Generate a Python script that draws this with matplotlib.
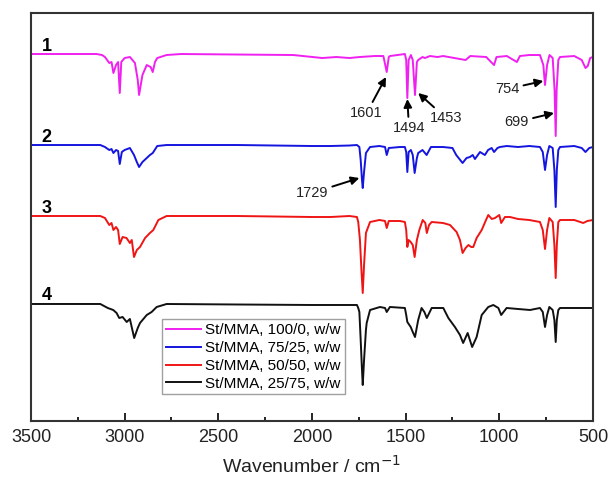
import matplotlib
matplotlib.use("Agg")
import matplotlib.pyplot as plt
from matplotlib.ticker import MultipleLocator

plt.rcParams['font.family'] = ['Liberation Sans', 'DejaVu Sans']

# FTIR spectra (arbitrary transmittance units, offset per sample)
wn_1 = [3500, 3150, 3121, 3105, 3082, 3070, 3060, 3046, 3035, 3026, 3018, 3000, 2972, 2945, 2930, 2923,
        2905, 2882, 2861, 2850, 2838, 2826, 2776, 2700, 2400, 2100, 1945, 1870, 1800, 1745, 1665, 1619,
        1601, 1590, 1583, 1504, 1497, 1491, 1484, 1472, 1462, 1450, 1440, 1433, 1410, 1397, 1370, 1330,
        1300, 1180, 1155, 1070, 1028, 1015, 960, 906, 890, 840, 783, 765, 756, 745, 732, 715, 705, 699,
        694, 685, 676, 600, 560, 540, 528, 515, 500]
t_1 = [367, 367, 366, 364, 358, 359, 348, 356, 359, 328, 359, 363, 364, 358, 341, 326,
       346, 356, 354, 349, 359, 363, 366, 367, 366.5, 366, 363, 364, 363, 364, 365, 365,
       349, 364, 365, 367, 361, 323, 361, 366, 361, 326, 359, 361, 364, 363, 365, 364,
       365, 361, 365, 364, 356, 364, 365, 359, 365, 366, 366, 356, 336, 356, 366, 363, 331, 285,
       331, 361, 364, 365, 361, 353, 355, 363, 364]

wn_2 = [3500, 3130, 3105, 3082, 3070, 3060, 3046, 3035, 3026, 3015, 3000, 2972, 2950, 2935, 2923, 2905,
        2882, 2865, 2850, 2826, 2776, 2400, 2000, 1900, 1800, 1760, 1747, 1740, 1733, 1729, 1722, 1712,
        1690, 1640, 1610, 1601, 1590, 1530, 1504, 1497, 1491, 1484, 1472, 1462, 1452, 1440, 1433, 1410,
        1388, 1365, 1300, 1250, 1230, 1196, 1175, 1157, 1142, 1130, 1103, 1077, 1060, 1041, 1028, 1010,
        997, 960, 900, 840, 783, 768, 756, 745, 733, 715, 706, 699, 693, 685, 676, 600, 560, 540, 520, 500]
t_2 = [276, 276, 274, 271, 272, 268, 271, 270, 257, 269, 271, 273, 266, 259, 254, 259,
       263, 266, 268, 275, 276, 276, 275, 275, 275.5, 276, 274, 261, 241, 233, 249, 268,
       274, 275, 274, 266, 273, 274, 274, 269, 249, 269, 271, 266, 248, 263, 268, 271,
       266, 274, 274, 273, 266, 258, 263, 264, 266, 262, 269, 266, 271, 273, 269, 273,
       274, 275, 274, 275, 274, 269, 251, 266, 275, 273, 251, 214, 251, 271, 274, 275, 273, 269, 273, 274]

wn_3 = [3500, 3130, 3105, 3082, 3070, 3060, 3046, 3035, 3026, 3011, 2990, 2972, 2962, 2950, 2935, 2918,
        2891, 2865, 2847, 2820, 2776, 2400, 2000, 1900, 1800, 1760, 1753, 1744, 1736, 1729, 1722, 1712,
        1690, 1640, 1610, 1601, 1590, 1530, 1504, 1497, 1491, 1484, 1473, 1462, 1452, 1440, 1427, 1409,
        1395, 1387, 1375, 1361, 1300, 1263, 1228, 1210, 1196, 1180, 1165, 1150, 1139, 1121, 1094, 1071,
        1059, 1040, 1023, 1000, 990, 970, 943, 900, 840, 783, 768, 756, 745, 733, 715, 706, 699, 693,
        685, 676, 600, 552, 530, 500]
t_3 = [205, 205, 203, 196, 198, 191, 194, 191, 177, 184, 183, 178, 181, 164, 171, 174,
       183, 188, 191, 201, 205, 205, 204, 204, 205, 204, 199, 181, 151, 128, 156, 188,
       199, 201, 200, 193, 200, 200, 199, 191, 174, 181, 179, 176, 164, 181, 191, 201,
       198, 188, 196, 199, 198, 196, 189, 181, 168, 173, 176, 174, 174, 183, 191, 201,
       206, 202, 203, 206, 198, 204, 204, 202, 201, 199, 191, 172, 191, 203, 199, 176, 143, 176,
       199, 201, 201, 198, 200, 201]

wn_4 = [3500, 3130, 3090, 3061, 3043, 3029, 3011, 2989, 2972, 2949, 2930, 2918, 2882, 2856, 2829, 2776,
        2400, 2000, 1800, 1760, 1753, 1747, 1740, 1733, 1729, 1722, 1712, 1708, 1690, 1637, 1610, 1601,
        1584, 1504, 1497, 1491, 1473, 1462, 1450, 1433, 1415, 1400, 1387, 1361, 1299, 1272, 1237, 1210,
        1193, 1169, 1145, 1121, 1094, 1059, 1032, 1005, 990, 961, 900, 836, 783, 768, 756, 745, 733,
        715, 706, 699, 693, 685, 676, 600, 500]
t_4 = [117, 117, 113, 111, 108, 103, 104, 99, 102, 83, 93, 98, 106, 109, 114, 117,
       116.5, 116, 116, 116, 113, 109, 81, 51, 36, 61, 91, 98, 111, 114, 113, 109,
       114, 113, 106, 99, 94, 89, 84, 101, 113, 109, 103, 113, 113, 103, 94, 86,
       78, 88, 74, 84, 106, 114, 116, 113, 106, 113, 112, 111, 113, 109, 94, 106, 114,
       111, 101, 79, 101, 111, 113, 113, 113]

spectra = [(wn_1, t_1), (wn_2, t_2), (wn_3, t_3), (wn_4, t_4)]
labels = ['St/MMA, 100/0, w/w', 'St/MMA, 75/25, w/w', 'St/MMA, 50/50, w/w', 'St/MMA, 25/75, w/w']
numbers = ['1', '2', '3', '4']
colors = ['#f020f0', '#1515e0', '#f01515', '#111111']

# peak annotations: text, arrow tip (wn, y), text position (wn, y)
peaks = ['1601', '1494', '1453', '754', '699', '1729']
tips = [(1605, 344), (1491, 322), (1433, 328), (765, 340), (708, 308), (1747, 243)]
text_pos = [(1708, 308), (1482, 293), (1285, 303), (958, 332), (907, 299), (2000, 228)]

fig = plt.figure(figsize=(6.11, 4.84), dpi=100)
ax = fig.add_axes([0.0507, 0.1302, 0.9198, 0.8429])

for (x, y), lab, c in zip(spectra, labels, colors):
    ax.plot(x, y, color=c, lw=1.4, label=lab)

for num, (x, y) in zip(numbers, spectra):
    ax.text(3416, y[0] + 8, num, fontsize=13, fontweight='bold', ha='center', va='center')

for txt, tip, pos in zip(peaks, tips, text_pos):
    ax.annotate(txt, xy=tip, xytext=pos, ha='center', va='center', fontsize=10.5, color='#222222',
                arrowprops=dict(arrowstyle='-|>', color='black', lw=1.4, mutation_scale=12,
                                shrinkA=1, shrinkB=0))

ax.set_xlim(3500, 500)
ax.set_ylim(0, 408)
ax.set_yticks([])
ax.xaxis.set_major_locator(MultipleLocator(500))
ax.xaxis.set_minor_locator(MultipleLocator(250))
ax.tick_params(axis='x', which='major', direction='in', length=6, width=1.2, labelsize=13, pad=6,
               labelcolor='#222222')
ax.tick_params(axis='x', which='minor', direction='in', length=3, width=1.2)
for s in ax.spines.values():
    s.set_linewidth(1.5)
    s.set_color('#333333')

ax.set_xlabel('Wavenumber / cm$^{-1}$', fontsize=14, labelpad=6, color='#222222')

leg = ax.legend(loc='upper left', bbox_to_anchor=(0.2326, 0.249), borderaxespad=0, fontsize=11,
                frameon=True, fancybox=False, edgecolor='#888888', handlelength=2.3,
                handletextpad=0.3, labelspacing=0.25, borderpad=0.25)
leg.get_frame().set_linewidth(1.0)

fig.savefig('out.png', dpi=100)
